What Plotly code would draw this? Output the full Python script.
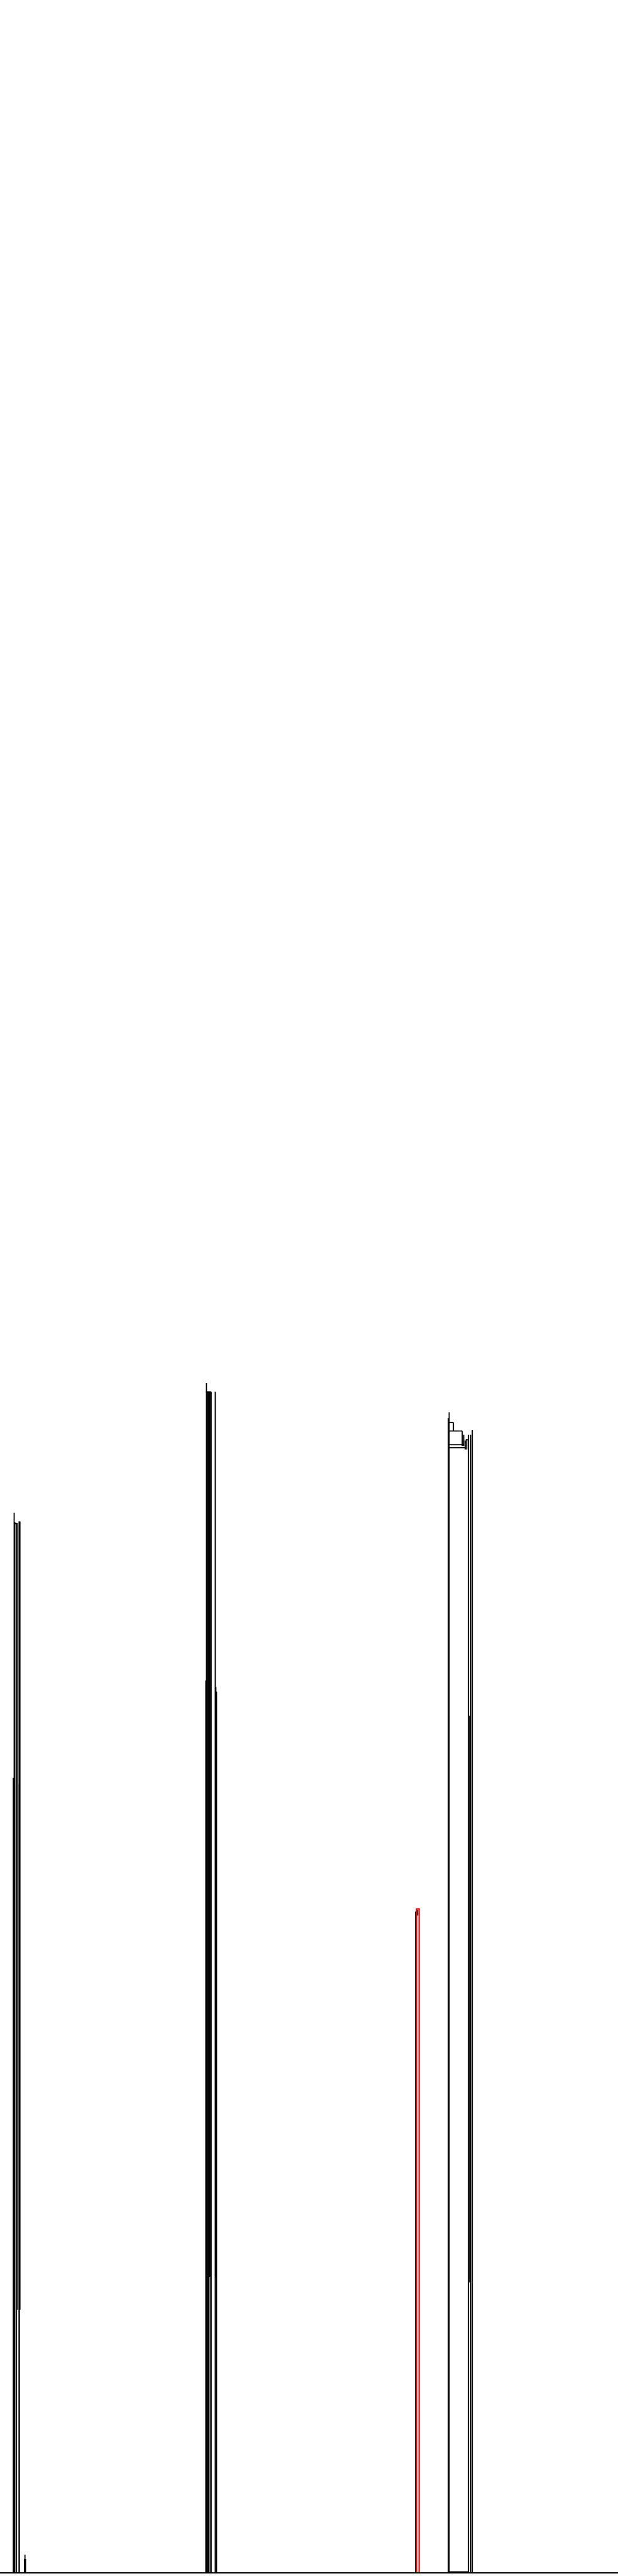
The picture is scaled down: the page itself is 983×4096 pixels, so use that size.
import plotly.graph_objects as go

# Dendrogram-like branches: leaf position (x units) and distance range (y units)
branch_x = [3.10, 3.30, 3.45, 3.85, 4.00, 4.45, 4.65, 4.50,
            5.70, 5.82, 5.95,
            48.00, 48.15, 48.35, 48.55, 48.75, 48.95, 49.15, 49.25, 50.20, 50.35, 50.50,
            96.92, 97.42,
            104.55, 104.75, 105.75, 107.80, 108.15, 108.50, 108.85,
            109.25, 109.45, 109.75, 110.15]
branch_lo = [0.0, 0.0, 0.0, 0.0, 61.2, 0.0, 61.2, 0.0,
             0.0, 0.0, 0.0,
             0.0, 0.0, 0.0, 0.0, 0.0, 68.8, 0.0, 0.0, 0.0, 68.8, 0.0,
             0.0, 153.2,
             0.0, 0.0, 266.2, 262.7, 262.7, 261.9, 261.9,
             0.0, 67.6, 0.0, 0.0]
branch_hi = [185.3, 247.1, 245.0, 244.7, 244.7, 245.1, 245.1, 183.8,
             3.1, 4.1, 3.1,
             208.0, 277.4, 275.4, 275.4, 275.4, 275.4, 275.4, 275.4, 275.4, 206.5, 205.4,
             154.1, 154.5,
             269.2, 270.6, 268.2, 266.2, 265.3, 264.0, 264.3,
             265.3, 199.8, 265.3, 266.4]

# Horizontal joins between branches
join_x0 = [3.40, 48.00, 104.75, 104.75, 104.75, 104.75, 108.60, 104.65]
join_x1 = [4.00, 49.20, 105.75, 107.80, 108.20, 108.50, 109.30, 109.25]
join_y = [244.6, 275.3, 268.2, 266.2, 263.0, 262.3, 264.15, 0.1]

# Highlighted (red) link
red_x = [97.15, 97.15, 97.75, 97.75]
red_y = [0.0, 154.7, 154.7, 0.0]

bx, by = [], []
for x, lo, hi in zip(branch_x, branch_lo, branch_hi):
    bx += [x, x, None]
    by += [lo, hi, None]
for x0, x1, y in zip(join_x0, join_x1, join_y):
    bx += [x0, x1, None]
    by += [y, y, None]

fig = go.Figure()
fig.add_trace(go.Scatter(x=bx, y=by, mode="lines",
                         line=dict(color="black", width=1.8),
                         hoverinfo="skip", showlegend=False))
fig.add_trace(go.Scatter(x=red_x, y=red_y, mode="lines",
                         line=dict(color="#ff0000", width=2.2),
                         hoverinfo="skip", showlegend=False))

fig.update_layout(
    width=983, height=4096,
    margin=dict(l=0, r=0, t=0, b=6),
    plot_bgcolor="white", paper_bgcolor="white",
    showlegend=False,
    xaxis=dict(range=[0, 144.13], showgrid=False, zeroline=False,
               showticklabels=False, ticks="", showline=True,
               linecolor="black", linewidth=2),
    yaxis=dict(range=[0, 600], showgrid=False, zeroline=False,
               showticklabels=False, ticks="", showline=False),
)

fig.write_html("out.html",
               config={"displayModeBar": False},
               post_script="document.body.style.margin='0';document.body.style.padding='0';")
